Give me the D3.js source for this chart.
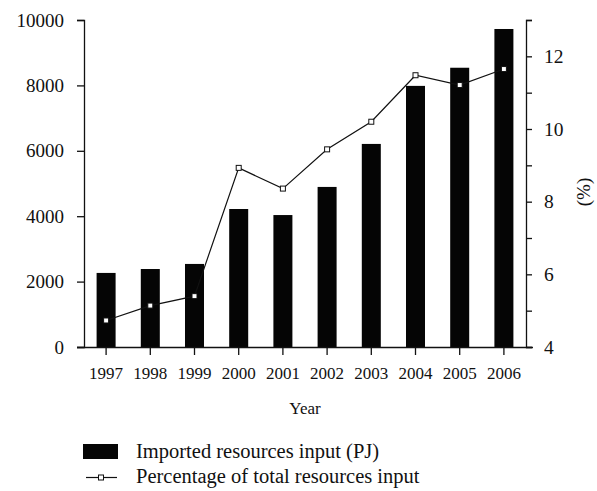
<html>
  <head>
    <meta charset="utf-8">
    <title>Imported resources input</title>
    <style>
      body { margin: 0; background: #fff; }
      text { font-family: "Liberation Serif", "Times New Roman", serif; fill: #111; }
    </style>
  </head>
  <body>
    <script src="https://d3js.org/d3.v7.min.js"></script>
    <script>

    var width = 597,
        height = 491;

    var years = ["1997", "1998", "1999", "2000", "2001", "2002", "2003", "2004", "2005", "2006"];
    var imported = [2265, 2385, 2540, 4220, 4035, 4895, 6210, 7985, 8540, 9725];
    var percent = [4.73, 5.14, 5.40, 8.93, 8.36, 9.44, 10.20, 11.48, 11.21, 11.65];
    var leftTicks = [0, 2000, 4000, 6000, 8000, 10000];
    var rightTicks = [4, 5, 6, 7, 8, 9, 10, 11, 12, 13];
    var legendLabels = ["Imported resources input (PJ)", "Percentage of total resources input"];

    var plotLeft = 84, plotRight = 526, plotTop = 20, plotBottom = 347;

    var svg = d3.select("body")
                .append("svg")
                .attr("width", width)
                .attr("height", height);

    var x = d3.scaleBand().domain(years).range([plotLeft, plotRight]).paddingInner(0.57).paddingOuter(0.285);
    var yL = d3.scaleLinear().domain([0, 10000]).range([plotBottom, plotTop]);
    var yR = d3.scaleLinear().domain([4, 13]).range([plotBottom, plotTop]);

    // bars
    svg.append("g")
       .selectAll("rect")
       .data(imported)
       .enter().append("rect")
       .attr("x", function(d, i){ return x(years[i]); })
       .attr("y", function(d){ return yL(d); })
       .attr("width", x.bandwidth())
       .attr("height", function(d){ return plotBottom - yL(d); })
       .attr("fill", "#050505");

    // axes
    var axL = svg.append("g")
       .attr("transform", "translate(" + plotLeft + ",0)")
       .call(d3.axisLeft(yL).tickValues(leftTicks).tickSizeOuter(0).tickSize(7).tickPadding(13).tickFormat(d3.format("d")));
    axL.selectAll("text").style("font-size", "19px");

    var axR = svg.append("g")
       .attr("transform", "translate(" + plotRight + ",0)")
       .call(d3.axisRight(yR).tickValues(rightTicks).tickSizeOuter(0).tickSize(6).tickPadding(12)
             .tickFormat(function(d){ return d % 2 === 0 && d < 13 ? d : ""; }));
    axR.selectAll("text").style("font-size", "19.5px");

    var axB = svg.append("g")
       .attr("transform", "translate(0," + plotBottom + ")")
       .call(d3.axisBottom(x).tickSizeOuter(0).tickSize(8).tickPadding(12));
    axB.select(".domain").attr("d", "M" + (plotLeft - 7) + ",0.5H" + (plotRight + 7));
    axB.selectAll("text").style("font-size", "17px");

    svg.selectAll(".domain, .tick line").attr("stroke", "#111").attr("stroke-width", 1.3);

    // line
    var line = d3.line()
                 .x(function(d, i){ return x(years[i]) + x.bandwidth() / 2; })
                 .y(function(d){ return yR(d); });

    svg.append("path")
       .datum(percent)
       .attr("d", line)
       .attr("fill", "none")
       .attr("stroke", "#111")
       .attr("stroke-width", 1.2);

    svg.append("g")
       .selectAll("rect")
       .data(percent)
       .enter().append("rect")
       .attr("x", function(d, i){ return x(years[i]) + x.bandwidth() / 2 - 2.5; })
       .attr("y", function(d){ return yR(d) - 2.5; })
       .attr("width", 5)
       .attr("height", 5)
       .attr("fill", "#fff")
       .attr("stroke", "#111")
       .attr("stroke-width", 1);

    // axis titles
    svg.append("text")
       .attr("x", 305).attr("y", 414)
       .attr("text-anchor", "middle")
       .style("font-size", "17px")
       .text("Year");

    svg.append("text")
       .attr("transform", "translate(590,192) rotate(-90)")
       .attr("text-anchor", "middle")
       .style("font-size", "19px")
       .text("(%)");

    // legend
    var lg = svg.append("g");
    lg.append("rect").attr("x", 83).attr("y", 444).attr("width", 35).attr("height", 15).attr("fill", "#050505");
    lg.append("line").attr("x1", 86).attr("x2", 117).attr("y1", 477.5).attr("y2", 477.5)
      .attr("stroke", "#111").attr("stroke-width", 1.2);
    lg.append("rect").attr("x", 98.5).attr("y", 475).attr("width", 5).attr("height", 5)
      .attr("fill", "#fff").attr("stroke", "#111");
    lg.selectAll("text")
      .data(legendLabels)
      .enter().append("text")
      .attr("x", 136)
      .attr("y", function(d, i){ return 458 + i * 25; })
      .style("font-size", "20.5px")
      .text(function(d){ return d; });

        </script>
  </body>
</html>
